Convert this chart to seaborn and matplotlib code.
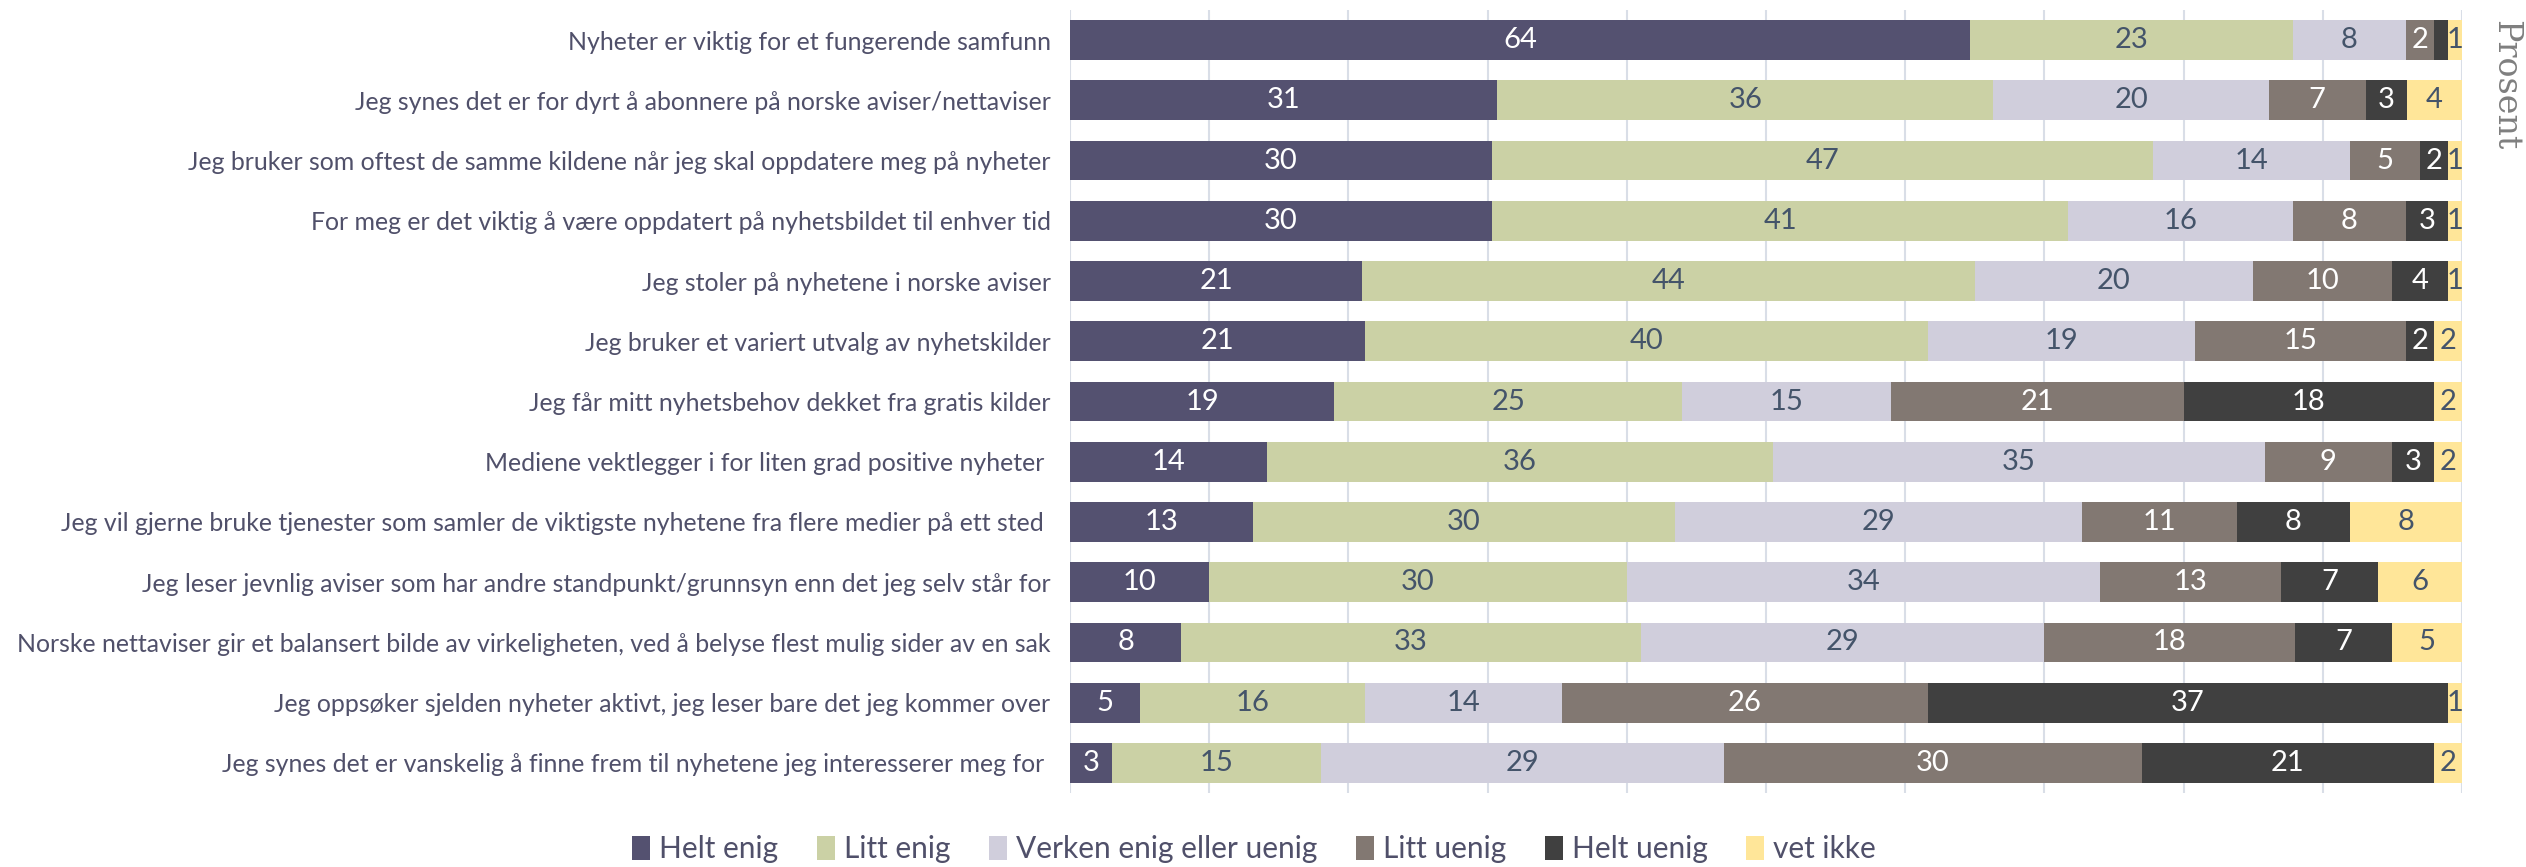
import numpy as np
import pandas as pd
import matplotlib
matplotlib.use("Agg")
import matplotlib.pyplot as plt
from matplotlib.patches import Patch
import seaborn as sns

STATEMENTS = [
    "Nyheter er viktig for et fungerende samfunn",
    "Jeg synes det er for dyrt å abonnere på norske aviser/nettaviser",
    "Jeg bruker som oftest de samme kildene når jeg skal oppdatere meg på nyheter",
    "For meg er det viktig å være oppdatert på nyhetsbildet til enhver tid",
    "Jeg stoler på nyhetene i norske aviser",
    "Jeg bruker et variert utvalg av nyhetskilder",
    "Jeg får mitt nyhetsbehov dekket fra gratis kilder",
    "Mediene vektlegger i for liten grad positive nyheter ",
    "Jeg vil gjerne bruke tjenester som samler de viktigste nyhetene fra flere medier på ett sted ",
    "Jeg leser jevnlig aviser som har andre standpunkt/grunnsyn enn det jeg selv står for",
    "Norske nettaviser gir et balansert bilde av virkeligheten, ved å belyse flest mulig sider av en sak",
    "Jeg oppsøker sjelden nyheter aktivt, jeg leser bare det jeg kommer over",
    "Jeg synes det er vanskelig å finne frem til nyhetene jeg interesserer meg for ",
]

CATEGORIES = ["Helt enig", "Litt enig", "Verken enig eller uenig", "Litt uenig", "Helt uenig", "vet ikke"]

helt_enig = [64, 31, 30, 30, 21, 21, 19, 14, 13, 10, 8, 5, 3]
litt_enig = [23, 36, 47, 41, 44, 40, 25, 36, 30, 30, 33, 16, 15]
verken = [8, 20, 14, 16, 20, 19, 15, 35, 29, 34, 29, 14, 29]
litt_uenig = [2, 7, 5, 8, 10, 15, 21, 9, 11, 13, 18, 26, 30]
helt_uenig = [1, 3, 2, 3, 4, 2, 18, 3, 8, 7, 7, 37, 21]
vet_ikke = [1, 4, 1, 1, 1, 2, 2, 2, 8, 6, 5, 1, 2]

COLORS = ["#545170", "#CBD1A5", "#D0CEDC", "#827872", "#404040", "#FFE699"]
LABEL_COLORS = ["white", "#44546A", "#44546A", "white", "white", "#44546A"]
TEXT_COLOR = "#50506A"


def build_frame():
    df = pd.DataFrame(
        np.array([helt_enig, litt_enig, verken, litt_uenig, helt_uenig, vet_ikke]).T,
        columns=CATEGORIES,
    )
    df.insert(0, "statement", STATEMENTS)
    # 100 % stacked: scale each row to its own total
    pct = df[CATEGORIES].div(df[CATEGORIES].sum(axis=1), axis=0) * 100
    cum = pct.cumsum(axis=1)
    return df, pct, cum


def plot(df, pct, cum):
    sns.set_style("white")
    plt.rcParams["font.family"] = ["Lato", "DejaVu Sans"]

    fig = plt.figure(figsize=(25.26, 8.67), dpi=100)
    ax = fig.add_axes([1070 / 2526, 1 - 793 / 867, 1392 / 2526, 783 / 867])

    # draw the cumulative totals from the last category backwards, so each
    # shorter bar sits on top of the longer one
    for k in range(len(CATEGORIES) - 1, -1, -1):
        plot_df = pd.DataFrame({"statement": df["statement"], "value": cum.iloc[:, k]})
        sns.barplot(
            data=plot_df,
            x="value",
            y="statement",
            orient="h",
            color=COLORS[k],
            saturation=1,
            width=0.66,
            linewidth=0,
            ax=ax,
            zorder=2,
        )

    for k, cat in enumerate(CATEGORIES):
        for i in range(len(df)):
            v = df[cat].iloc[i]
            if k == 4 and v < 1.5:
                continue
            xc = cum.iloc[i, k] - pct.iloc[i, k] / 2
            ax.text(xc, i, str(v), ha="center", va="center", fontsize=21,
                    color=LABEL_COLORS[k], zorder=3)

    ax.set_xlim(0, 100)
    ax.set_ylim(len(df) - 0.5, -0.5)
    ax.set_xticks(np.arange(0, 101, 10))
    ax.set_xticklabels([])
    ax.xaxis.grid(True, color="#D9DEE7", linewidth=1.5, zorder=0)
    ax.set_axisbelow(True)
    ax.set_xlabel("")
    ax.set_ylabel("")
    ax.tick_params(axis="y", length=0, pad=14, labelsize=17.9, labelcolor=TEXT_COLOR)
    ax.tick_params(axis="x", length=0)
    for s in ax.spines.values():
        s.set_visible(False)

    fig.text(2505 / 2526, 1 - 85 / 867, "Prosent", rotation=-90, ha="center", va="center",
             fontsize=24, color="#7F7F7F", family="DejaVu Serif")

    handles = [Patch(facecolor=c, edgecolor="none") for c in COLORS]
    leg = fig.legend(
        handles, CATEGORIES, loc="center", bbox_to_anchor=(1254 / 2526, 1 - 849 / 867),
        ncol=6, frameon=False, fontsize=21.5, handlelength=0.6, handleheight=0.85,
        handletextpad=0.3, columnspacing=1.3,
    )
    for t in leg.get_texts():
        t.set_color(TEXT_COLOR)

    fig.savefig("out.png", dpi=100)
    plt.close(fig)


def main():
    df, pct, cum = build_frame()
    plot(df, pct, cum)


if __name__ == "__main__":
    main()
